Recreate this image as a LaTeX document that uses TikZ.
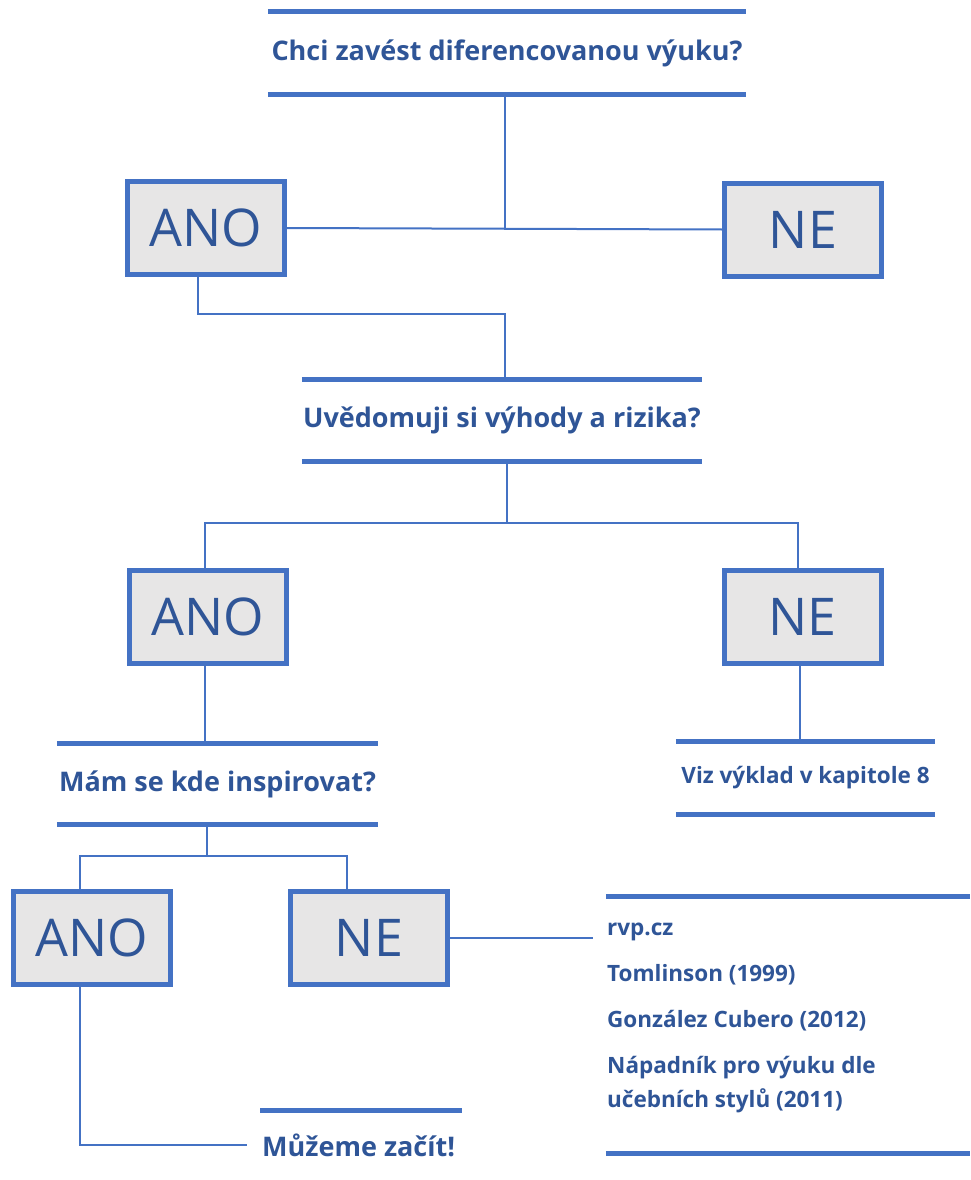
\documentclass[tikz,border=0pt]{standalone}
\usepackage{fontspec}
\setmainfont{Open Sans}
\usetikzlibrary{calc}
\definecolor{lineblue}{HTML}{4472C4}
\definecolor{textblue}{HTML}{2F5597}
\definecolor{boxfill}{HTML}{E7E6E6}
\tikzset{
  answer/.style={draw=lineblue, line width=5pt, fill=boxfill, inner sep=0pt,
    minimum width=157pt, minimum height=93pt, text=textblue,
    font=\fontsize{52}{62}\selectfont},
  question/.style={inner sep=0pt, text=textblue,
    font=\bfseries\fontsize{27}{32}\selectfont},
  note/.style={inner sep=0pt, anchor=west, text=textblue,
    font=\bfseries\fontsize{22.5}{27}\selectfont},
  bar/.style={draw=lineblue, line width=5pt},
  link/.style={draw=lineblue, line width=2pt},
}
\begin{document}
\begin{tikzpicture}[x=1pt, y=-1pt]
\useasboundingbox (0,0) rectangle (970,1180);

% first question
\node[question, minimum width=478pt, minimum height=82pt] (q1) at (507,53) {Chci zavést diferencovanou výuku?};
\draw[bar] (q1.north west) -- (q1.north east);
\draw[bar] (q1.south west) -- (q1.south east);
\node[answer] (a1) at (206,228) {ANO};
\node[answer] (n1) at (803,229.5) {NE};
\draw[link] (a1.east) -- (n1.west);
\draw[link] ([xshift=-2pt]q1.south) -- ([xshift=-2pt]q1.south |- a1.east);

% second question
\node[question, minimum width=400pt, minimum height=81pt] (q2) at (502,420.5) {Uvědomuji si výhody a rizika?};
\draw[bar] (q2.north west) -- (q2.north east);
\draw[bar] (q2.south west) -- (q2.south east);
\draw[link] ([xshift=-8pt]a1.south) |- (505,314) -- ([xshift=3pt]q2.north);
\node[answer] (a2) at (207.5,617) {ANO};
\node[answer] (n2) at (802.5,617) {NE};
\coordinate (split2) at ([xshift=5pt,yshift=-62pt]q2.south);
\draw[link] ([xshift=5pt]q2.south) -- (split2);
\draw[link] ([xshift=-2.5pt]a2.north) |- (split2) -| ([xshift=-5pt]n2.north);

% third question and the note on the right
\node[question, minimum width=321pt, minimum height=80pt] (q3) at (217.5,784) {Mám se kde inspirovat?};
\draw[bar] (q3.north west) -- (q3.north east);
\draw[bar] (q3.south west) -- (q3.south east);
\draw[link] ([xshift=-2.5pt]a2.south) -- ([xshift=-2.5pt]a2.south |- q3.north);
\node[question, font=\bfseries\fontsize{22.5}{27}\selectfont, minimum width=259pt, minimum height=72pt] (q4) at (805.5,778) {Viz výklad v kapitole 8};
\draw[bar] (q4.north west) -- (q4.north east);
\draw[bar] (q4.south west) -- (q4.south east);
\draw[link] ([xshift=-2.5pt]n2.south) -- ([xshift=-2.5pt]n2.south |- q4.north);

% last answers
\node[answer] (a3) at (91.5,938) {ANO};
\node[answer] (n3) at (369,938) {NE};
\coordinate (split3) at ([xshift=-10.5pt,yshift=-32pt]q3.south);
\draw[link] ([xshift=-10.5pt]q3.south) -- (split3);
\draw[link] ([xshift=-11.5pt]a3.north) |- (split3) -| ([xshift=-22pt]n3.north);

% sources
\node[minimum width=364pt, minimum height=256pt, inner sep=0pt] (src) at (788,1025) {};
\draw[bar] (src.north west) -- (src.north east);
\draw[bar] (src.south west) -- (src.south east);
\node[note] (s1) at (607,932) {rvp.cz};
\node[note] (s2) at (607,975) {Tomlinson (1999)};
\node[note] (s3) at (607,1021) {González Cubero (2012)};
\node[note] (s4) at (607,1068) {Nápadník pro výuku dle};
\node[note] (s5) at (607,1101) {učebních stylů (2011)};
\draw[link] (n3.east) -- ([xshift=-14pt]s1.west |- n3.east);

% start
\node[note, font=\bfseries\fontsize{27}{32}\selectfont] (go) at (262,1145) {Můžeme začít!};
\coordinate (gobar) at (260,1110);
\draw[bar] (gobar) -- ++(202,0);
\draw[link] ([xshift=-11.5pt]a3.south) |- ([xshift=-15pt]go.west);
\end{tikzpicture}
\end{document}
